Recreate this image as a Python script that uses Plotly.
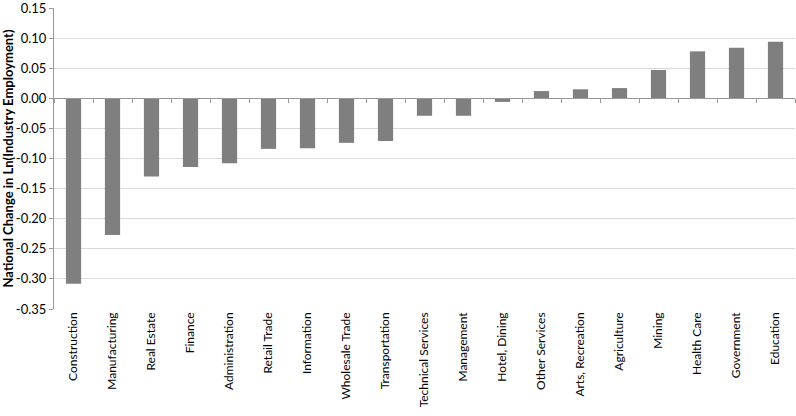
import plotly.graph_objects as go

categories = ["Construction", "Manufacturing", "Real Estate", "Finance", "Administration",
              "Retail Trade", "Information", "Wholesale Trade", "Transportation",
              "Technical Services", "Management", "Hotel, Dining", "Other Services",
              "Arts, Recreation", "Agriculture", "Mining", "Health Care", "Government", "Education"]
values = [-0.308, -0.227, -0.130, -0.114, -0.108, -0.084, -0.083, -0.074, -0.071,
          -0.029, -0.029, -0.006, 0.012, 0.015, 0.017, 0.047, 0.078, 0.084, 0.094]
tick_vals = [-0.35, -0.30, -0.25, -0.20, -0.15, -0.10, -0.05, 0.00, 0.05, 0.10, 0.15]
tick_text = ["%.2f" % v for v in tick_vals]

font = "Lato, 'Open Sans', sans-serif"
xr = [-0.5, len(categories) - 0.5]

fig = go.Figure()
fig.add_trace(go.Bar(x=categories, y=values, marker=dict(color="#7f7f7f", line=dict(width=0)),
                     width=0.39))
# invisible trace on overlay axis for ticks at zero line
fig.add_trace(go.Scatter(x=categories, y=[None]*len(categories), xaxis="x2", showlegend=False,
                         hoverinfo="skip"))

fig.update_layout(
    width=796, height=416,
    margin=dict(l=54, r=1, t=8, b=107),
    paper_bgcolor="white", plot_bgcolor="white",
    showlegend=False,
    font=dict(family=font, size=12, color="#000000"),
    xaxis=dict(tickangle=-90, showgrid=False, showline=False, ticks="", range=xr,
               tickfont=dict(size=12, family=font), zeroline=False, automargin=False),
    xaxis2=dict(overlaying="x", anchor="free", position=0.7, showticklabels=False,
                ticks="outside", ticklen=4, tickcolor="#999999", tickson="boundaries",
                showline=True, linecolor="#999999", linewidth=1, showgrid=False,
                range=xr, automargin=False),
    yaxis=dict(range=[-0.35, 0.15], tickvals=tick_vals, ticktext=tick_text,
               showgrid=True, gridcolor="#d9d9d9", gridwidth=1,
               showline=True, linecolor="#999999", linewidth=1,
               ticks="outside", ticklen=4, tickcolor="#999999",
               zeroline=False, tickfont=dict(size=13, family=font),
               automargin=False, ticklabeloverflow="allow",
               title=dict(text="<b>National Change in Ln(Industry Employment)</b>",
                          font=dict(size=13, family=font), standoff=1)),
)

fig.write_html("out.html", config={"displayModeBar": False},
               post_script="document.body.style.margin='0';")
